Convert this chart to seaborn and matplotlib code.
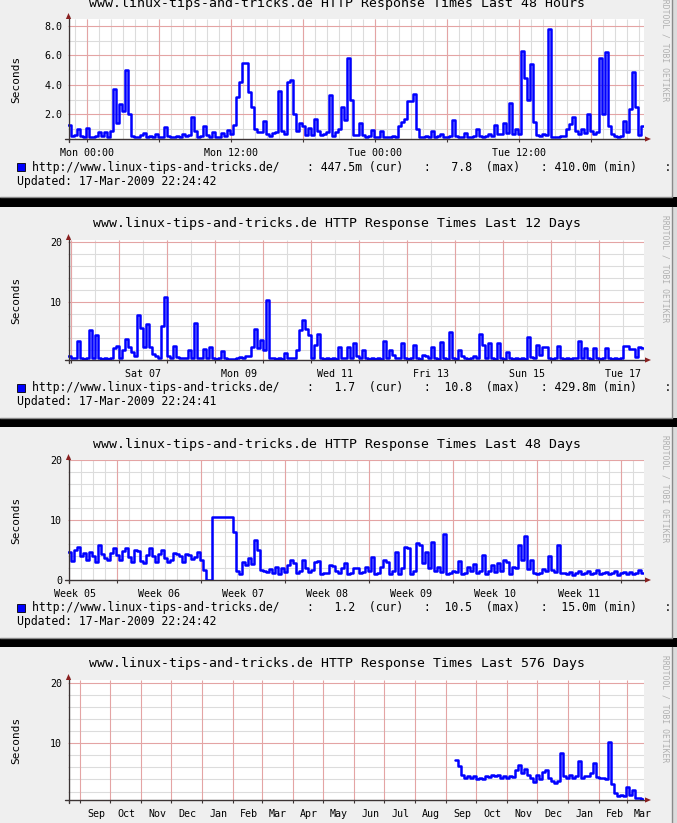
import pandas as pd
import seaborn as sns
import matplotlib.pyplot as plt
import matplotlib.dates as mdates
from matplotlib.patches import Rectangle, Polygon
from matplotlib.lines import Line2D

W, H = 677, 823

SITE = "www.linux-tips-and-tricks.de"
URL = "http://www.linux-tips-and-tricks.de/"
END = pd.Timestamp("2009-03-17 22:24")

# last 48 hours, one value every 15 minutes
hours48 = [
    1.3, 0.55, 0.6, 1.0, 0.55, 0.5, 1.1, 0.5, 0.5, 0.55, 0.8, 0.55, 0.8, 0.5, 0.9, 3.7, 1.4, 2.7, 2.2, 5.0,
    2.0, 0.55, 0.5, 0.5, 0.6, 0.75, 0.5, 0.55, 0.5, 0.65, 0.5, 0.5, 1.15, 0.55, 0.5, 0.5, 0.55, 0.5, 0.7, 0.55,
    0.6, 1.8, 0.9, 0.5, 0.55, 1.2, 0.6, 0.5, 0.8, 0.5, 0.5, 0.75, 0.55, 0.95, 0.65, 1.3, 3.2, 4.2, 5.5, 5.5,
    3.5, 2.5, 1.0, 0.8, 0.8, 1.55, 0.65, 0.55, 0.75, 0.8, 3.6, 0.9, 0.7, 4.2, 4.3, 2.0, 0.9, 1.4, 1.2, 0.6,
    1.1, 0.6, 1.7, 0.9, 0.6, 0.7, 0.8, 3.3, 0.55, 0.8, 1.0, 2.5, 1.6, 5.8, 3.0, 0.6, 0.6, 1.4, 0.6, 0.5,
    0.55, 0.95, 0.5, 0.5, 0.9, 0.5, 0.5, 0.5, 0.55, 0.5, 1.2, 1.5, 1.7, 2.9, 2.9, 3.4, 1.0, 0.5, 0.5, 0.55,
    0.5, 0.9, 0.5, 0.55, 0.7, 0.5, 0.5, 0.55, 1.6, 0.55, 0.5, 0.5, 0.75, 0.5, 0.5, 0.55, 1.0, 0.55, 0.5, 0.55,
    0.7, 0.55, 1.3, 0.65, 0.7, 1.4, 0.75, 2.8, 0.7, 1.0, 0.7, 6.3, 4.5, 3.0, 5.45, 1.5, 0.6, 0.55, 0.7, 0.6,
    7.8, 0.5, 0.5, 0.5, 0.55, 0.55, 1.0, 1.33, 1.8, 0.9, 0.65, 1.0, 0.75, 2.0, 0.9, 0.7, 0.8, 5.8, 2.0, 6.2,
    1.2, 0.65, 0.55, 0.5, 0.55, 1.55, 0.8, 2.4, 4.9, 2.5, 0.6, 1.2,
]

# last 12 days, one value every 90 minutes
days12 = [
    0.9, 0.7, 0.6, 3.5, 0.6, 0.55, 0.6, 5.3, 0.7, 4.5, 0.6, 0.55, 0.6, 0.55, 0.6, 2.3, 2.6, 0.7, 2.0, 3.8,
    2.5, 1.7, 0.9, 7.8, 5.6, 2.5, 6.3, 2.5, 1.3, 1.0, 0.7, 5.9, 10.8, 1.0, 0.7, 2.6, 0.8, 0.6, 0.6, 0.6,
    1.9, 0.6, 6.4, 0.6, 0.6, 2.2, 0.6, 2.5, 0.6, 0.55, 0.6, 1.8, 0.6, 0.55, 0.5, 0.55, 0.6, 0.8, 0.7, 0.9,
    0.9, 2.5, 5.4, 2.3, 3.6, 2.0, 10.3, 0.7, 0.6, 0.55, 0.6, 0.55, 1.4, 0.6, 0.65, 0.6, 2.0, 5.3, 6.9, 5.4,
    4.5, 0.6, 2.8, 4.6, 0.6, 0.55, 0.6, 0.55, 0.6, 0.55, 2.5, 0.6, 0.6, 2.5, 0.7, 3.1, 1.0, 0.6, 2.0, 0.6,
    0.55, 0.6, 0.55, 0.6, 0.55, 3.4, 0.7, 2.0, 1.2, 0.6, 0.6, 3.2, 0.6, 0.55, 0.6, 2.8, 0.6, 0.55, 1.1, 1.0,
    0.6, 2.5, 0.6, 0.55, 3.3, 0.6, 0.55, 5.05, 0.6, 0.55, 2.0, 1.0, 0.6, 0.55, 0.6, 1.0, 0.6, 4.6, 2.8, 0.6,
    3.1, 0.6, 0.55, 3.1, 0.6, 0.55, 1.7, 0.6, 0.55, 0.6, 0.55, 0.6, 0.55, 4.2, 0.8, 0.6, 2.8, 1.2, 2.5, 2.5,
    0.6, 0.55, 0.6, 2.7, 0.6, 0.55, 0.6, 0.55, 0.6, 0.6, 3.55, 0.6, 2.3, 0.6, 0.55, 2.3, 0.6, 0.55, 0.6, 2.3,
    0.6, 0.55, 0.6, 0.55, 0.6, 2.7, 2.6, 2.2, 2.2, 0.8, 2.5, 2.3,
]

# last 48 days, one value every 6 hours
days48 = [
    4.7, 3.2, 5.0, 5.5, 4.0, 4.5, 3.3, 4.7, 4.0, 3.0, 5.8, 4.4, 3.7, 3.4, 4.5, 5.3, 4.2, 3.3, 4.8, 5.3,
    3.8, 3.0, 5.0, 4.8, 3.2, 2.8, 4.2, 5.3, 4.0, 3.0, 4.4, 5.0, 3.6, 3.0, 3.4, 4.5, 4.4, 4.0, 3.0, 4.4,
    4.2, 3.5, 3.8, 4.7, 3.3, 1.6, 0.0, 0.0, 10.45, 10.5, 10.45, 10.45, 10.5, 10.45, 10.45, 8.0, 1.5, 1.0, 3.0, 2.5,
    3.7, 2.6, 6.7, 5.0, 1.6, 1.5, 1.3, 1.8, 1.2, 2.2, 1.0, 2.0, 1.4, 2.5, 3.3, 2.8, 1.2, 1.5, 3.4, 2.0,
    1.3, 1.6, 3.0, 3.2, 1.0, 1.2, 1.1, 2.5, 2.4, 1.5, 1.2, 2.0, 2.8, 1.0, 1.2, 2.0, 2.0, 1.1, 1.3, 2.2,
    1.5, 3.9, 1.0, 1.2, 2.2, 3.3, 3.0, 1.0, 1.5, 4.7, 1.0, 2.0, 5.5, 5.3, 1.0, 1.5, 6.2, 5.8, 2.8, 4.7,
    2.0, 6.4, 1.5, 2.2, 1.4, 7.7, 1.0, 1.2, 1.5, 1.3, 3.2, 1.0, 1.2, 2.2, 1.5, 2.7, 1.2, 1.5, 4.2, 1.0,
    1.5, 2.5, 1.3, 2.8, 1.5, 3.3, 3.0, 1.0, 2.2, 2.0, 5.8, 3.3, 7.3, 1.8, 3.3, 1.1, 1.0, 1.2, 1.8, 1.5,
    4.0, 1.6, 1.4, 5.8, 1.2, 1.1, 1.0, 1.3, 0.9, 1.2, 1.5, 1.0, 1.1, 1.5, 1.0, 1.2, 1.6, 1.0, 1.1, 1.4,
    1.0, 1.2, 1.5, 0.9, 1.1, 1.4, 1.0, 1.3, 1.0, 1.2, 1.6, 1.2,
]

# last 576 days, one value every 3 days (nothing recorded before Sep 2008)
days576_first = pd.Timestamp("2008-09-09 22:24")
days576 = [
    7.3, 6.2, 4.8, 4.3, 4.6, 4.2, 4.5, 4.0, 4.2, 4.1, 4.6, 4.4, 4.7, 4.5, 4.8, 4.3, 4.6, 4.2, 4.5, 4.4,
    5.5, 6.4, 5.0, 5.8, 4.8, 4.2, 3.6, 4.8, 4.1, 5.2, 5.6, 4.2, 3.8, 3.5, 3.7, 8.4, 4.6, 4.2, 4.7, 4.3,
    4.5, 7.0, 4.3, 4.5, 4.6, 5.0, 6.7, 4.4, 4.3, 4.2, 4.0, 10.3, 3.3, 1.7, 1.2, 1.4, 1.3, 2.8, 1.5, 2.3,
    1.0, 0.9, 0.8,
]

spans = ["48 Hours", "12 Days", "48 Days", "576 Days"]
cur_vals = [("447.5", "m"), ("1.7", " "), ("1.2", " ")]
max_vals = [("7.8", " "), ("10.8", " "), ("10.5", " ")]
min_vals = [("410.0", "m"), ("429.8", "m"), ("15.0", "m")]
updated = ["17-Mar-2009 22:24:42", "17-Mar-2009 22:24:41", "17-Mar-2009 22:24:42"]

MONO = "DejaVu Sans Mono"
BLUE = "#0000ff"
MINOR_C = "#dcdcdc"
MAJOR_C = "#e4a4a4"
AXIS_C = "#3c3434"
ARROW_C = "#8a2020"

sns.set_style("white")
plt.rcParams["font.family"] = [MONO, "DejaVu Sans"]

fig = plt.figure(figsize=(W / 100, H / 100), dpi=100)
fig.patch.set_facecolor("black")


def fig_line(xs, ys, **kw):
    fig.add_artist(Line2D([x / W for x in xs], [1 - y / H for y in ys],
                          transform=fig.transFigure, **kw))


def fig_poly(pts, **kw):
    fig.add_artist(Polygon([(x / W, 1 - y / H) for x, y in pts], closed=True,
                           transform=fig.transFigure, **kw))


def legend_text(cur, mx, mn):
    return (f"{URL}    : {cur[0]:>5}{cur[1]} (cur)   : {mx[0]:>5}{mx[1]} (max)"
            f"   : {mn[0]:>5}{mn[1]} (min)    :")


def panel(idx, top, start, times, values, vgrid, xlabels, ylim, hgrid, yticks, ylabels):
    bottom = top + 211
    fig.add_artist(Rectangle((0, 1 - bottom / H), 1, 211 / H, transform=fig.transFigure,
                             fc="#efefef", ec="none", zorder=-5))
    fig.add_artist(Rectangle((672 / W, 1 - bottom / H), 5 / W, 211 / H, transform=fig.transFigure,
                             fc="#dcdcdc", ec="none", zorder=-4))
    fig_line([671.5, 671.5], [top, bottom], color="#8a8a8a", lw=1, zorder=-3)
    fig_line([0, 672], [bottom - 0.5, bottom - 0.5], color="#8a8a8a", lw=1, zorder=-3)

    base = top + 153
    ax = fig.add_axes([68 / W, 1 - base / H, 576 / W, 120 / H])
    ax.set_facecolor("white")
    for s in ax.spines.values():
        s.set_visible(False)

    minor_x, major_x = vgrid
    if len(minor_x):
        ax.vlines(mdates.date2num(minor_x), 0, 1, transform=ax.get_xaxis_transform(),
                  colors=MINOR_C, lw=0.8, zorder=1)
    ax.vlines(mdates.date2num(major_x), 0, 1, transform=ax.get_xaxis_transform(),
              colors=MAJOR_C, lw=0.8, zorder=1.5)
    ax.vlines(mdates.date2num(major_x), -3 / 120, 0, transform=ax.get_xaxis_transform(),
              colors=AXIS_C, lw=0.8, clip_on=False, zorder=4)
    minor_y, major_y = hgrid
    ax.hlines(minor_y, 0, 1, transform=ax.get_yaxis_transform(), colors=MINOR_C, lw=0.8, zorder=1)
    ax.hlines(major_y, 0, 1, transform=ax.get_yaxis_transform(), colors=MAJOR_C, lw=0.8, zorder=1.5)

    df = pd.DataFrame({"time": list(times) + [END], "seconds": list(values) + [values[-1]]})
    sns.lineplot(data=df, x="time", y="seconds", ax=ax, color=BLUE, linewidth=1.8,
                 drawstyle="steps-post", estimator=None, zorder=3)

    ax.set_xlim(start, END)
    ax.set_ylim(*ylim)
    pos, txt = xlabels
    ax.set_xticks(mdates.date2num(pos))
    ax.set_xticklabels(txt)
    ax.set_yticks(yticks)
    ax.set_yticklabels(ylabels)
    ax.tick_params(length=0, labelsize=7.2, labelcolor="black")
    ax.tick_params(axis="x", pad=6.3)
    ax.tick_params(axis="y", pad=4.2)
    ax.set_xlabel("")
    ax.set_ylabel("")

    # axes and arrows
    fig_line([65, 646], [base, base], color=AXIS_C, lw=1, zorder=6)
    fig_line([68.5, 68.5], [base + 3, top + 30], color=AXIS_C, lw=1, zorder=6)
    fig_poly([(651, base), (645, base - 2.6), (645, base + 2.6)], fc=ARROW_C, ec="none", zorder=7)
    fig_poly([(68.5, top + 27), (65.9, top + 33), (71.1, top + 33)], fc=ARROW_C, ec="none", zorder=7)

    fig.text(337 / W, 1 - (top + 17) / H, f"{SITE} HTTP Response Times Last {spans[idx]}",
             ha="center", va="center", fontsize=9.5, family=MONO, color="black")
    fig.text(16 / W, 1 - (top + 93) / H, "Seconds", rotation=90, ha="center", va="center",
             fontsize=8, family=MONO, color="black")
    fig.text(665 / W, 1 - (top + 8) / H, "RRDTOOL / TOBI OETIKER", rotation=270,
             ha="center", va="top", fontsize=5.8, family=MONO, color="#b0b0b0")

    if idx < 3:
        ly = top + 181
        fig.add_artist(Rectangle((17 / W, 1 - (ly + 4) / H), 8 / W, 8 / H, transform=fig.transFigure,
                                 fc=BLUE, ec="black", lw=0.6, zorder=5))
        fig.text(31.5 / W, 1 - ly / H, legend_text(cur_vals[idx], max_vals[idx], min_vals[idx]),
                 ha="left", va="center", fontsize=8.3, family=MONO, color="black")
        fig.text(17 / W, 1 - (top + 195) / H, f"Updated: {updated[idx]}",
                 ha="left", va="center", fontsize=8.3, family=MONO, color="black")
    return ax


def step_times(start, values):
    return pd.date_range(start, END, periods=len(values) + 1)[:-1]


tops = [-14, 207, 427, 647]
minor_h = [v for v in range(2, 21, 2) if v % 10]

# 48 hours
s1 = END - pd.Timedelta(hours=48)
lab1 = pd.date_range("2009-03-16 00:00", END, freq="12h")
panel(0, tops[0], s1, step_times(s1, hours48), hours48,
      (pd.date_range("2009-03-15 23:00", END, freq="h"), pd.date_range("2009-03-16", END, freq="6h")),
      (lab1, [d.strftime("%a %H:%M") for d in lab1]),
      (0.333, 8.47), ([1, 3, 5, 7], [2, 4, 6, 8]), [2, 4, 6, 8], ["2.0", "4.0", "6.0", "8.0"])

# 12 days
s2 = END - pd.Timedelta(days=12)
lab2 = pd.date_range("2009-03-07 12:00", END, freq="2D")
panel(1, tops[1], s2, step_times(s2, days12), days12,
      (pd.date_range("2009-03-06", END, freq="12h"), pd.date_range("2009-03-06", END, freq="D")),
      (lab2, [d.strftime("%a %d") for d in lab2]),
      (0.3, 20.3), (minor_h, [10, 20]), [10, 20], ["10", "20"])

# 48 days
s3 = END - pd.Timedelta(days=48)
weeks = pd.date_range("2009-01-26", periods=7, freq="7D")
panel(2, tops[2], s3, step_times(s3, days48), days48,
      (pd.date_range("2009-01-29", END, freq="D"), pd.date_range("2009-02-02", END, freq="7D")),
      (weeks + pd.Timedelta(days=3.5), [f"Week {d.isocalendar()[1]:02d}" for d in weeks]),
      (0, 20), (minor_h, [10, 20]), [0, 10, 20], ["0", "10", "20"])

# 576 days
s4 = END - pd.Timedelta(days=576)
months = pd.date_range("2007-09-01", END, freq="MS")
panel(3, tops[3], s4, step_times(days576_first, days576), days576,
      ([], months),
      (months + pd.Timedelta(days=16), [d.strftime("%b") for d in months]),
      (0.6, 20.5), (minor_h, [10, 20]), [10, 20], ["10", "20"])

fig.savefig("out.png", dpi=100)
